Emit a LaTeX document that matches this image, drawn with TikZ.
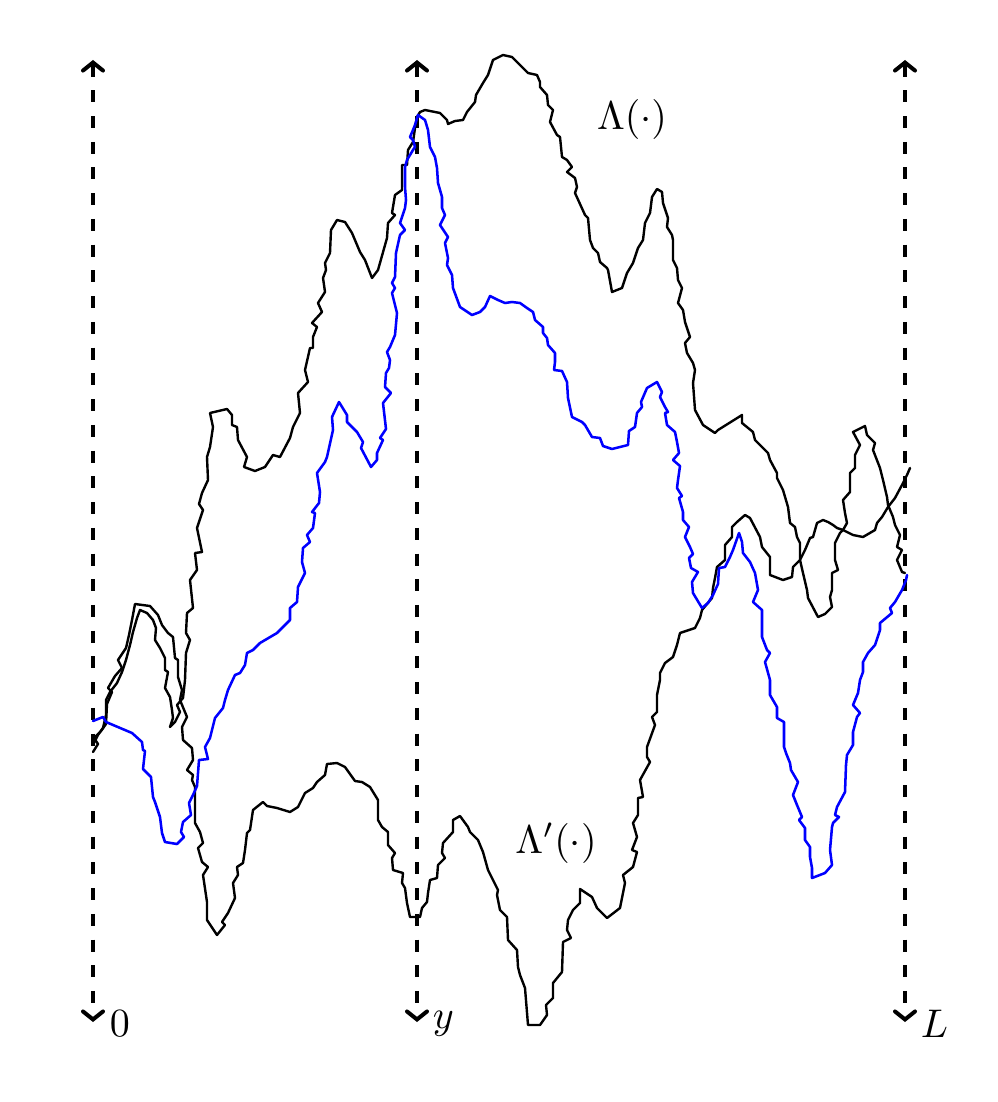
\documentclass[tikz,border=0pt]{standalone}
\usetikzlibrary{arrows.meta}
\begin{document}
\begin{tikzpicture}[x=0.75pt,y=-0.75pt,
  walk/.style={line width=1.8pt,line join=round,line cap=round,black},
  bwalk/.style={line width=1.9pt,line join=round,line cap=round,color={rgb,255:red,0;green,0;blue,255}},
  axisline/.style={line width=3pt,dash pattern=on 9pt off 10.3pt,
     {Straight Barb[length=6pt,width=15pt,line cap=round]}-{Straight Barb[length=6pt,width=15pt,line cap=round]}},
  lab/.style={inner sep=0pt,scale=3}]
\path (0,0) rectangle (998,1102);
% axes
\coordinate (t0) at (93,60);   \coordinate (b0) at (93,1022);
\coordinate (ty) at (417,60);  \coordinate (by) at (417,1022);
\coordinate (tL) at (905,60);  \coordinate (bL) at (905,1022);
\draw[axisline] (t0) -- (b0);
\draw[axisline] (ty) -- (by);
\draw[axisline] (tL) -- (bL);
% upper curve Lambda
\draw[walk] (93,745) -- (98,735) -- (103,728) -- (106,715) -- (106,700) -- (110,692) -- (117,683) -- (122,672) -- (126,660) -- (130,645) -- (133,632) -- (137,618) -- (140,610) -- (147,613) -- (153,620) -- (156,628) -- (155,640) -- (160,648) -- (165,658) -- (165,670) -- (168,672) -- (165,688) -- (170,697) -- (172,710) -- (173,718) -- (170,727) -- (175,722) -- (180,712) -- (177,705) -- (183,698) -- (185,680) -- (186,653) -- (190,640) -- (186,633) -- (187,613) -- (193,608) -- (190,580) -- (197,570) -- (195,553) -- (202,552) -- (197,528) -- (203,510) -- (199,504) -- (202,493) -- (208,480) -- (207,457) -- (210,447) -- (213,427) -- (210,413) -- (227,409) -- (232,415) -- (232,425) -- (237,427) -- (238,440) -- (247,457) -- (244,467) -- (255,471) -- (265,467) -- (273,455) -- (280,457) -- (290,438) -- (293,427) -- (300,413) -- (298,393) -- (308,382) -- (305,370) -- (310,348) -- (313,348) -- (313,337) -- (317,327) -- (312,323) -- (322,312) -- (318,303) -- (325,292) -- (323,278) -- (326,270) -- (325,263) -- (330,253) -- (331,230) -- (337,220) -- (345,222) -- (352,233) -- (360,252) -- (365,260) -- (372,278) -- (378,270) -- (387,238) -- (388,223) -- (395,215) -- (392,213) -- (395,195) -- (402,190) -- (402,165) -- (407,165) -- (408,150) -- (413,142) -- (415,128) -- (417,117) -- (420,112) -- (425,110) -- (440,113) -- (447,120) -- (448,124) -- (455,121) -- (463,120) -- (467,112) -- (475,102) -- (476,95) -- (483,83) -- (488,75) -- (493,60) -- (503,55) -- (512,57) -- (517,62) -- (528,73) -- (537,75) -- (540,82) -- (540,87) -- (547,95) -- (548,105) -- (553,110) -- (550,122) -- (557,135) -- (560,137) -- (562,157) -- (567,160) -- (572,167) -- (567,172) -- (575,178) -- (577,187) -- (575,193) -- (585,215) -- (588,218) -- (590,240) -- (593,248) -- (598,253) -- (600,262) -- (607,268) -- (608,270) -- (612,292) -- (622,288) -- (627,273) -- (633,263) -- (638,248) -- (643,240) -- (645,223) -- (650,213) -- (652,197) -- (657,189) -- (662,192) -- (663,203) -- (668,218) -- (667,227) -- (672,235) -- (673,240) -- (673,260) -- (677,268) -- (678,280) -- (682,288) -- (678,303) -- (683,310) -- (685,322) -- (690,337) -- (685,343) -- (687,353) -- (693,363) -- (695,370) -- (693,383) -- (695,410) -- (703,425) -- (715,433) -- (718,430) -- (742,415) -- (742,423) -- (753,432) -- (755,440) -- (768,453) -- (770,460) -- (777,473) -- (777,478) -- (783,490) -- (788,507) -- (790,523) -- (795,527) -- (797,537) -- (800,543) -- (800,560) -- (803,573) -- (807,590) -- (808,598) -- (818,617) -- (825,614) -- (832,607) -- (830,597) -- (832,590) -- (832,573) -- (838,570) -- (835,560) -- (835,543) -- (840,533) -- (843,530) -- (847,523) -- (845,513) -- (843,500) -- (850,492) -- (850,473) -- (855,468) -- (855,455) -- (860,445) -- (853,432) -- (865,426) -- (867,435) -- (875,443) -- (873,450) -- (880,468) -- (883,480) -- (887,497) -- (888,505) -- (893,517) -- (895,525) -- (900,535) -- (897,547) -- (902,550) -- (897,560) -- (902,572) -- (905,573);
% lower curve Lambda'
\draw[walk] (93,752) -- (98,744) -- (94,738) -- (101,731) -- (106,724) -- (107,704) -- (112,692) -- (108,688) -- (115,676) -- (122,668) -- (118,660) -- (126,648) -- (129,635) -- (132,620) -- (135,604) -- (150,606) -- (158,615) -- (162,625) -- (168,633) -- (173,637) -- (175,658) -- (178,660) -- (178,677) -- (182,690) -- (180,700) -- (187,717) -- (182,727) -- (183,740) -- (192,748) -- (193,760) -- (187,770) -- (193,775) -- (192,780) -- (195,787) -- (195,823) -- (200,832) -- (203,843) -- (198,848) -- (202,862) -- (208,867) -- (203,875) -- (207,902) -- (207,920) -- (217,935) -- (225,925) -- (222,922) -- (228,913) -- (235,898) -- (233,883) -- (238,875) -- (237,867) -- (243,863) -- (245,850) -- (247,833) -- (250,830) -- (253,810) -- (263,802) -- (267,806) -- (277,808) -- (290,812) -- (298,807) -- (305,793) -- (313,788) -- (317,782) -- (325,775) -- (327,764) -- (337,763) -- (345,767) -- (355,781) -- (362,782) -- (370,787) -- (378,800) -- (378,820) -- (382,827) -- (388,832) -- (388,845) -- (395,853) -- (392,858) -- (393,870) -- (403,873) -- (402,883) -- (405,888) -- (407,903) -- (410,917) -- (420,917) -- (422,908) -- (427,902) -- (428,893) -- (430,880) -- (437,878) -- (438,865) -- (445,858) -- (442,853) -- (443,843) -- (453,832) -- (453,820) -- (460,816) -- (468,827) -- (470,832) -- (478,840) -- (483,852) -- (488,870) -- (493,880) -- (498,890) -- (497,895) -- (500,910) -- (507,917) -- (508,940) -- (517,950) -- (518,967) -- (520,975) -- (525,988) -- (528,1025) -- (540,1025) -- (547,1015) -- (546,1005) -- (553,998) -- (553,983) -- (562,972) -- (563,942) -- (571,938) -- (567,930) -- (568,920) -- (573,910) -- (580,903) -- (580,889) -- (592,897) -- (597,908) -- (607,918) -- (620,908) -- (623,893) -- (625,883) -- (623,875) -- (633,867) -- (637,852) -- (632,850) -- (637,837) -- (633,823) -- (638,815) -- (638,798) -- (643,797) -- (640,780) -- (650,762) -- (647,757) -- (647,747) -- (655,725) -- (652,717) -- (657,712) -- (657,695) -- (660,680) -- (660,673) -- (665,663) -- (673,657) -- (677,645) -- (680,633) -- (695,628) -- (700,618) -- (702,610) -- (712,598) -- (713,588) -- (715,578) -- (717,567) -- (725,560) -- (725,545) -- (732,537) -- (732,527) -- (737,522) -- (745,515) -- (750,518) -- (760,537) -- (762,547) -- (770,557) -- (770,575) -- (783,580) -- (792,577) -- (793,567) -- (800,560) -- (805,550) -- (810,538) -- (813,537) -- (817,523) -- (823,520) -- (828,522) -- (833,525) -- (837,528) -- (843,530) -- (853,535) -- (863,537) -- (875,530) -- (877,523) -- (882,517) -- (888,507) -- (895,498) -- (902,485) -- (907,475) -- (910,468);
% blue path
\draw[bwalk] (93,721) -- (103,717) -- (106,722) -- (132,733) -- (142,742) -- (143,750) -- (145,751) -- (143,769) -- (151,777) -- (153,797) -- (155,802) -- (160,817) -- (162,833) -- (165,842) -- (177,844) -- (184,837) -- (181,832) -- (183,822) -- (191,815) -- (189,803) -- (193,795) -- (197,786) -- (199,760) -- (208,759) -- (205,747) -- (210,738) -- (215,718) -- (223,708) -- (225,700) -- (228,690) -- (235,675) -- (240,673) -- (245,665) -- (247,653) -- (253,650) -- (260,643) -- (277,633) -- (290,620) -- (290,608) -- (297,602) -- (298,587) -- (305,573) -- (302,562) -- (303,548) -- (310,542) -- (307,535) -- (313,528) -- (315,513) -- (312,512) -- (319,503) -- (320,492) -- (317,473) -- (325,462) -- (327,457) -- (333,430) -- (332,417) -- (339,402) -- (347,415) -- (347,422) -- (357,432) -- (363,442) -- (361,448) -- (371,467) -- (377,460) -- (377,453) -- (383,440) -- (380,438) -- (386,429) -- (383,403) -- (391,393) -- (385,387) -- (386,373) -- (389,368) -- (390,360) -- (387,352) -- (390,347) -- (395,335) -- (397,313) -- (395,305) -- (392,293) -- (395,288) -- (392,283) -- (395,277) -- (396,253) -- (400,235) -- (405,230) -- (400,223) -- (405,208) -- (406,200) -- (405,187) -- (405,167) -- (407,160) -- (413,150) -- (415,147) -- (413,140) -- (410,137) -- (413,130) -- (415,125) -- (418,115) -- (425,120) -- (428,130) -- (430,147) -- (435,157) -- (437,168) -- (438,183) -- (442,197) -- (442,208) -- (445,215) -- (440,225) -- (448,237) -- (445,243) -- (448,258) -- (447,265) -- (452,275) -- (453,288) -- (460,307) -- (472,315) -- (480,312) -- (485,307) -- (490,296) -- (498,300) -- (505,303) -- (512,302) -- (520,303) -- (527,308) -- (533,312) -- (535,320) -- (543,327) -- (543,333) -- (547,338) -- (548,345) -- (555,353) -- (555,362) -- (554,370) -- (562,371) -- (567,382) -- (568,398) -- (572,417) -- (582,422) -- (585,425) -- (592,437) -- (600,438) -- (603,446) -- (612,449) -- (628,445) -- (629,431) -- (635,427) -- (637,413) -- (642,407) -- (641,402) -- (647,388) -- (657,382) -- (662,392) -- (660,397) -- (665,407) -- (668,412) -- (665,413) -- (667,425) -- (675,432) -- (677,442) -- (679,453) -- (673,460) -- (680,466) -- (678,480) -- (677,488) -- (682,496) -- (679,498) -- (683,512) -- (683,520) -- (689,527) -- (685,537) -- (690,547) -- (693,554) -- (689,558) -- (691,568) -- (698,572) -- (692,582) -- (693,593) -- (702,608) -- (708,603) -- (713,595) -- (718,584) -- (719,568) -- (725,567) -- (730,557) -- (733,550) -- (739,533) -- (742,542) -- (743,553) -- (750,562) -- (755,573) -- (758,590) -- (753,602) -- (762,610) -- (762,637) -- (767,650) -- (770,653) -- (765,662) -- (770,680) -- (770,695) -- (777,707) -- (777,718) -- (784,722) -- (784,747) -- (786,753) -- (790,763) -- (791,770) -- (798,782) -- (793,795) -- (797,805) -- (802,817) -- (799,820) -- (805,828) -- (805,840) -- (810,847) -- (810,857) -- (812,868) -- (812,878) -- (825,873) -- (832,865) -- (830,850) -- (832,827) -- (833,823) -- (839,817) -- (835,815) -- (837,807) -- (845,792) -- (846,765) -- (847,755) -- (853,745) -- (853,732) -- (857,717) -- (860,713) -- (853,705) -- (858,693) -- (860,680) -- (863,672) -- (863,662) -- (868,653) -- (875,645) -- (880,630) -- (880,623) -- (892,613) -- (890,608) -- (895,602) -- (902,590) -- (906,580) -- (907,575);
% labels
\node[lab,anchor=west] (l0) at (109,1024) {$0$};
\node[lab,anchor=west] (ly) at (432,1024) {$y$};
\node[lab,anchor=west] (lL) at (920,1024) {$L$};
\node[lab] (lam) at (632,120) {$\Lambda(\cdot)$};
\node[lab] (lamp) at (556,843) {$\Lambda'(\cdot)$};
\end{tikzpicture}
\end{document}
